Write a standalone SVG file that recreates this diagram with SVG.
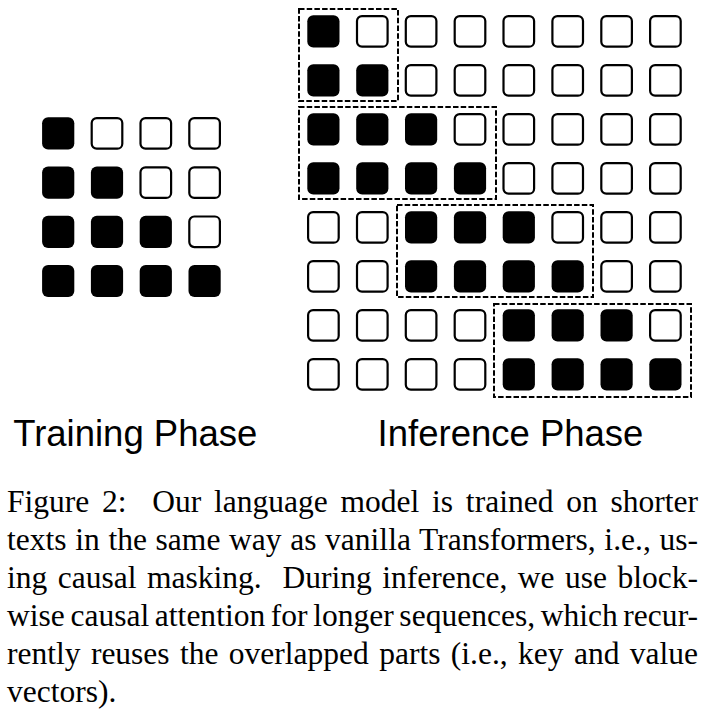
<svg xmlns="http://www.w3.org/2000/svg" xmlns:xlink="http://www.w3.org/1999/xlink" width="713" height="715" viewBox="0 0 713 715">
<style>
.empty{fill:#fff;stroke:#000;stroke-width:2.2}
.full{fill:#000;stroke:none}
.block{fill:none;stroke:#000;stroke-width:2;stroke-dasharray:5.5 2.2}
.label{font-family:"Liberation Sans",Arial,sans-serif;font-size:36.5px;fill:#000}
.cap{font-family:"Liberation Serif","Times New Roman",serif;font-size:31.5px;fill:#000;white-space:pre}
</style>
<defs>
<rect id="e" x="1.1" y="1.1" width="30.6" height="30.6" rx="5" class="empty"/>
<rect id="f" x="0.3" y="0.3" width="32.2" height="32.2" rx="6" class="full"/>
</defs>
<rect width="713" height="715" fill="#fff"/>
<g id="training-grid">
<use href="#f" x="41.8" y="117"/><use href="#e" x="90.6" y="117"/><use href="#e" x="139.4" y="117"/><use href="#e" x="188.2" y="117"/>
<use href="#f" x="41.8" y="166.2"/><use href="#f" x="90.6" y="166.2"/><use href="#e" x="139.4" y="166.2"/><use href="#e" x="188.2" y="166.2"/>
<use href="#f" x="41.8" y="215.4"/><use href="#f" x="90.6" y="215.4"/><use href="#f" x="139.4" y="215.4"/><use href="#e" x="188.2" y="215.4"/>
<use href="#f" x="41.8" y="264.6"/><use href="#f" x="90.6" y="264.6"/><use href="#f" x="139.4" y="264.6"/><use href="#f" x="188.2" y="264.6"/>
</g>
<g id="inference-grid">
<use href="#f" x="307" y="15"/><use href="#e" x="355.9" y="15"/><use href="#e" x="404.7" y="15"/><use href="#e" x="453.6" y="15"/><use href="#e" x="502.4" y="15"/><use href="#e" x="551.3" y="15"/><use href="#e" x="600.2" y="15"/><use href="#e" x="649" y="15"/>
<use href="#f" x="307" y="64"/><use href="#f" x="355.9" y="64"/><use href="#e" x="404.7" y="64"/><use href="#e" x="453.6" y="64"/><use href="#e" x="502.4" y="64"/><use href="#e" x="551.3" y="64"/><use href="#e" x="600.2" y="64"/><use href="#e" x="649" y="64"/>
<use href="#f" x="307" y="113"/><use href="#f" x="355.9" y="113"/><use href="#f" x="404.7" y="113"/><use href="#e" x="453.6" y="113"/><use href="#e" x="502.4" y="113"/><use href="#e" x="551.3" y="113"/><use href="#e" x="600.2" y="113"/><use href="#e" x="649" y="113"/>
<use href="#f" x="307" y="162"/><use href="#f" x="355.9" y="162"/><use href="#f" x="404.7" y="162"/><use href="#f" x="453.6" y="162"/><use href="#e" x="502.4" y="162"/><use href="#e" x="551.3" y="162"/><use href="#e" x="600.2" y="162"/><use href="#e" x="649" y="162"/>
<use href="#e" x="307" y="211"/><use href="#e" x="355.9" y="211"/><use href="#f" x="404.7" y="211"/><use href="#f" x="453.6" y="211"/><use href="#f" x="502.4" y="211"/><use href="#e" x="551.3" y="211"/><use href="#e" x="600.2" y="211"/><use href="#e" x="649" y="211"/>
<use href="#e" x="307" y="260"/><use href="#e" x="355.9" y="260"/><use href="#f" x="404.7" y="260"/><use href="#f" x="453.6" y="260"/><use href="#f" x="502.4" y="260"/><use href="#f" x="551.3" y="260"/><use href="#e" x="600.2" y="260"/><use href="#e" x="649" y="260"/>
<use href="#e" x="307" y="309"/><use href="#e" x="355.9" y="309"/><use href="#e" x="404.7" y="309"/><use href="#e" x="453.6" y="309"/><use href="#f" x="502.4" y="309"/><use href="#f" x="551.3" y="309"/><use href="#f" x="600.2" y="309"/><use href="#e" x="649" y="309"/>
<use href="#e" x="307" y="358"/><use href="#e" x="355.9" y="358"/><use href="#e" x="404.7" y="358"/><use href="#e" x="453.6" y="358"/><use href="#f" x="502.4" y="358"/><use href="#f" x="551.3" y="358"/><use href="#f" x="600.2" y="358"/><use href="#f" x="649" y="358"/>
</g>
<g id="blocks">
<rect id="block-1" class="block" x="299" y="9" width="99" height="92"/>
<rect id="block-2" class="block" x="299" y="107" width="197" height="92"/>
<rect id="block-3" class="block" x="397" y="205" width="196" height="92"/>
<rect id="block-4" class="block" x="494" y="304" width="197" height="93"/>
</g>
<g id="labels">
<text class="label" x="13.2" y="446">Training Phase</text>
<text class="label" x="377.6" y="446">Inference Phase</text>
</g>
<g id="caption">
<text class="cap" x="7" y="512" word-spacing="4.9" textLength="691" lengthAdjust="spacing">Figure 2:  Our language model is trained on shorter</text>
<text class="cap" x="7" y="550" word-spacing="0.7" textLength="691" lengthAdjust="spacing">texts in the same way as vanilla Transformers, i.e., us-</text>
<text class="cap" x="7" y="588" word-spacing="2.6" textLength="691" lengthAdjust="spacing">ing causal masking.  During inference, we use block-</text>
<text class="cap" x="7" y="626" word-spacing="-2.3" textLength="691" lengthAdjust="spacing">wise causal attention for longer sequences, which recur-</text>
<text class="cap" x="7" y="664" word-spacing="2.5" textLength="691" lengthAdjust="spacing">rently reuses the overlapped parts (i.e., key and value</text>
<text class="cap" x="7" y="702">vectors).</text>
</g>
</svg>
